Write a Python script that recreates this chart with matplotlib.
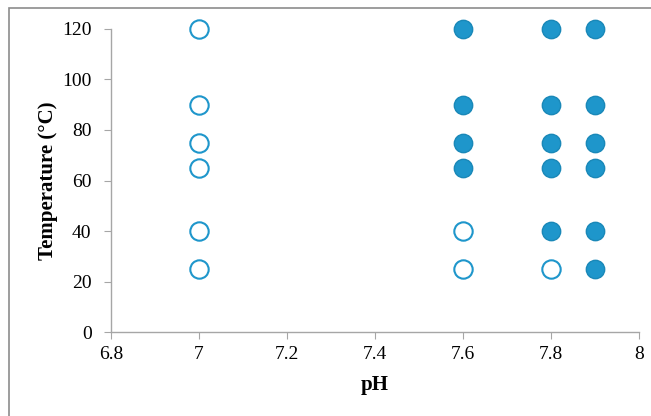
import matplotlib.pyplot as plt
from matplotlib.patches import Rectangle

plt.rcParams['font.family'] = ['Liberation Serif', 'DejaVu Serif']

# open markers
ph_open = [7, 7, 7, 7, 7, 7, 7.6, 7.6, 7.8]
temp_open = [25, 40, 65, 75, 90, 120, 25, 40, 25]

# filled markers
ph_filled = [7.6, 7.6, 7.6, 7.6,
             7.8, 7.8, 7.8, 7.8, 7.8,
             7.9, 7.9, 7.9, 7.9, 7.9, 7.9]
temp_filled = [65, 75, 90, 120,
               40, 65, 75, 90, 120,
               25, 40, 65, 75, 90, 120]

xticks = [6.8, 7, 7.2, 7.4, 7.6, 7.8, 8]
xticklabels = ['6.8', '7', '7.2', '7.4', '7.6', '7.8', '8']
yticks = [0, 20, 40, 60, 80, 100, 120]

blue = '#1e96cb'
gray = '#a6a6a6'

fig = plt.figure(figsize=(6.51, 4.16), dpi=100)
ax = fig.add_axes([0.1705, 0.2019, 0.8111, 0.7284])

ax.scatter(ph_open, temp_open, s=175, facecolors='white', edgecolors=blue,
           linewidths=1.5, clip_on=False, zorder=3)
ax.scatter(ph_filled, temp_filled, s=175, facecolors=blue, edgecolors='#1a88b8',
           linewidths=1.0, clip_on=False, zorder=3)

ax.set_xlim(6.8, 8)
ax.set_ylim(0, 120)
ax.set_xticks(xticks)
ax.set_xticklabels(xticklabels)
ax.set_yticks(yticks)

for s in ['top', 'right']:
    ax.spines[s].set_visible(False)
for s in ['left', 'bottom']:
    ax.spines[s].set_color(gray)
    ax.spines[s].set_linewidth(1.0)
ax.tick_params(direction='out', length=5, color=gray, labelsize=14)
ax.tick_params(axis='y', pad=9)
ax.tick_params(axis='x', pad=5)

ax.set_xlabel('pH', fontsize=15, fontweight='bold', labelpad=9)
ax.set_ylabel('Temperature (\u00b0C)', fontsize=15, fontweight='bold', labelpad=3)

# outer chart border (right and bottom run off the image)
fig.patches.append(Rectangle((9 / 651, -0.1), 1.2, 1 - 8 / 416 + 0.1,
                             transform=fig.transFigure, fill=False,
                             edgecolor='#8c8c8c', linewidth=1.2))

fig.savefig('out.png', dpi=100)
